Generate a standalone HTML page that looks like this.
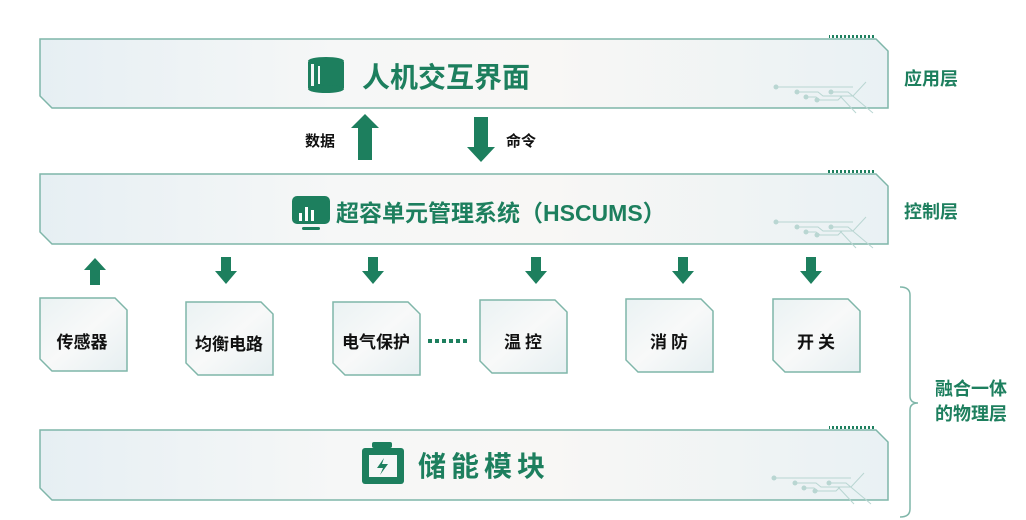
<!DOCTYPE html>
<html><head><meta charset="utf-8"><style>
html,body{margin:0;padding:0;background:#fff;width:1026px;height:520px;overflow:hidden}
svg text{font-family:"Liberation Sans","Noto Sans CJK SC",sans-serif;font-weight:bold}
</style></head><body>
<svg width="1026" height="520" viewBox="0 0 1026 520" xmlns="http://www.w3.org/2000/svg">
<defs>
<linearGradient id="bg" x1="0" x2="1" y1="0" y2="0">
<stop offset="0" stop-color="#e6eff3"/><stop offset="0.35" stop-color="#f6f7f7"/><stop offset="0.6" stop-color="#f8f7f5"/><stop offset="1" stop-color="#e9f1f4"/>
</linearGradient>
<linearGradient id="bx" x1="0" x2="1" y1="0" y2="1">
<stop offset="0" stop-color="#eaf2f3"/><stop offset="0.5" stop-color="#f8f9f9"/><stop offset="1" stop-color="#e6eff1"/>
</linearGradient>
<pattern id="hatch" width="4" height="4" patternUnits="userSpaceOnUse"><rect width="2" height="4" fill="#1d7f5e"/></pattern>
<g id="circ" stroke="#b9d6d2" stroke-width="1" fill="none">
<line x1="-112" y1="-21" x2="-35" y2="-21"/><path d="M-91 -16 H-70 L-65 -12 H-35 L-22 -26"/>
<path d="M-82 -11 H-72 L-68 -8 H-50 L-46 -12"/><path d="M-71 -8 H-55"/>
<path d="M-57 -16 H-40 L-15 5"/><path d="M-48 -12 L-32 5"/>
<g fill="#b9d6d2" stroke="none"><circle cx="-112" cy="-21" r="2.5"/><circle cx="-91" cy="-16" r="2.5"/><circle cx="-82" cy="-11" r="2.5"/><circle cx="-71" cy="-8" r="2.5"/><circle cx="-57" cy="-16" r="2.5"/></g>
</g>
</defs>

<g stroke="#7fb6a9" stroke-width="1.5" fill="url(#bg)">
<path d="M40 39 H876 L888 51 V108 H52 L40 96 Z"/>
<path d="M40 174 H876 L888 186 V244 H52 L40 232 Z"/>
<path d="M40 430 H876 L888 442 V500 H52 L40 488 Z"/>
</g>
<rect x="829" y="35" width="46" height="3" fill="url(#hatch)"/>
<rect x="827" y="170" width="48" height="3" fill="url(#hatch)"/>
<rect x="829" y="426" width="46" height="3" fill="url(#hatch)"/>
<use href="#circ" x="888" y="108"/>
<use href="#circ" x="888" y="243"/>
<use href="#circ" x="886" y="499"/>

<g fill="#1d7f5e">
<ellipse cx="326" cy="61" rx="18" ry="4"/>
<rect x="308" y="62" width="36" height="26"/>
<ellipse cx="326" cy="89" rx="18" ry="4"/>
<rect x="311" y="64" width="3" height="22" fill="#f5f7f7"/>
<rect x="318" y="66" width="2" height="18" fill="#f5f7f7"/>
<rect x="292" y="196" width="38" height="28" rx="5"/>
<rect x="302" y="227" width="18" height="3" rx="1.5"/>
<g fill="#fff"><rect x="299" y="213" width="3" height="8"/><rect x="305" y="207" width="3" height="14"/><rect x="311" y="210" width="3" height="11"/></g>
<rect x="372" y="442" width="20" height="6" rx="2"/>
<rect x="362" y="448" width="42" height="36" rx="3"/>
<rect x="369" y="455" width="28" height="22" fill="#f5f7f7"/>
<path d="M384 458 L377 468 H383 L380 475 L388 464 H382 Z"/>
</g>

<text x="362" y="87" font-size="28" fill="#1d7f5e">人机交互界面</text>
<text x="336" y="221" font-size="23" fill="#1d7f5e">超容单元管理系统（HSCUMS）</text>
<text x="418" y="476" font-size="28" fill="#1d7f5e" letter-spacing="5">储能模块</text>

<g fill="#1d7f5e">
<path d="M358 160 V128 H351 L365 114 L379 128 H372 V160 Z"/>
<path d="M474 117 H488 V147 H495 L481 162 L467 147 H474 Z"/>
</g>
<text x="305" y="146" font-size="15" fill="#111">数据</text>
<text x="506" y="146" font-size="15" fill="#111">命令</text>

<g fill="#1d7f5e">
<path d="M90 285 V270 H84 L95 258 L106 270 H100 V285 Z"/>
<path d="M221 257 H231 V271 H237 L226 284 L215 271 H221 Z"/>
<path d="M368 257 H378 V271 H384 L373 284 L362 271 H368 Z"/>
<path d="M531 257 H541 V271 H547 L536 284 L525 271 H531 Z"/>
<path d="M678 257 H688 V271 H694 L683 284 L672 271 H678 Z"/>
<path d="M806 257 H816 V271 H822 L811 284 L800 271 H806 Z"/>
</g>

<g stroke="#7fb6a9" stroke-width="1.5" fill="url(#bx)">
<path d="M40 298 H115 L127 310 V371 H52 L40 359 Z"/>
<path d="M186 302 H261 L273 314 V375 H198 L186 363 Z"/>
<path d="M333 302 H408 L420 314 V375 H345 L333 363 Z"/>
<path d="M480 300 H555 L567 312 V373 H492 L480 361 Z"/>
<path d="M626 299 H701 L713 311 V372 H638 L626 360 Z"/>
<path d="M773 299 H848 L860 311 V372 H785 L773 360 Z"/>
</g>
<g font-size="17" fill="#111" text-anchor="middle">
<text x="82" y="348">传感器</text>
<text x="229" y="350">均衡电路</text>
<text x="376" y="348">电气保护</text>
<text x="525" y="348" letter-spacing="4">温控</text>
<text x="671" y="348" letter-spacing="4">消防</text>
<text x="818" y="348" letter-spacing="4">开关</text>
</g>
<g fill="#1d7f5e"><rect x="428" y="339" width="4" height="4"/><rect x="435" y="339" width="4" height="4"/><rect x="442" y="339" width="4" height="4"/><rect x="449" y="339" width="4" height="4"/><rect x="456" y="339" width="4" height="4"/><rect x="463" y="339" width="4" height="4"/></g>

<text x="904" y="85" font-size="18" fill="#1d7f5e">应用层</text>
<text x="904" y="218" font-size="18" fill="#1d7f5e">控制层</text>
<path d="M900 287 Q910 287 910 295 V396 Q910 403 918 403 Q910 403 910 410 V509 Q910 517 900 517" fill="none" stroke="#7fb6a9" stroke-width="1.5"/>
<text x="935" y="395" font-size="18" fill="#1d7f5e">融合一体</text>
<text x="935" y="420" font-size="18" fill="#1d7f5e">的物理层</text>
</svg>
</body></html>
